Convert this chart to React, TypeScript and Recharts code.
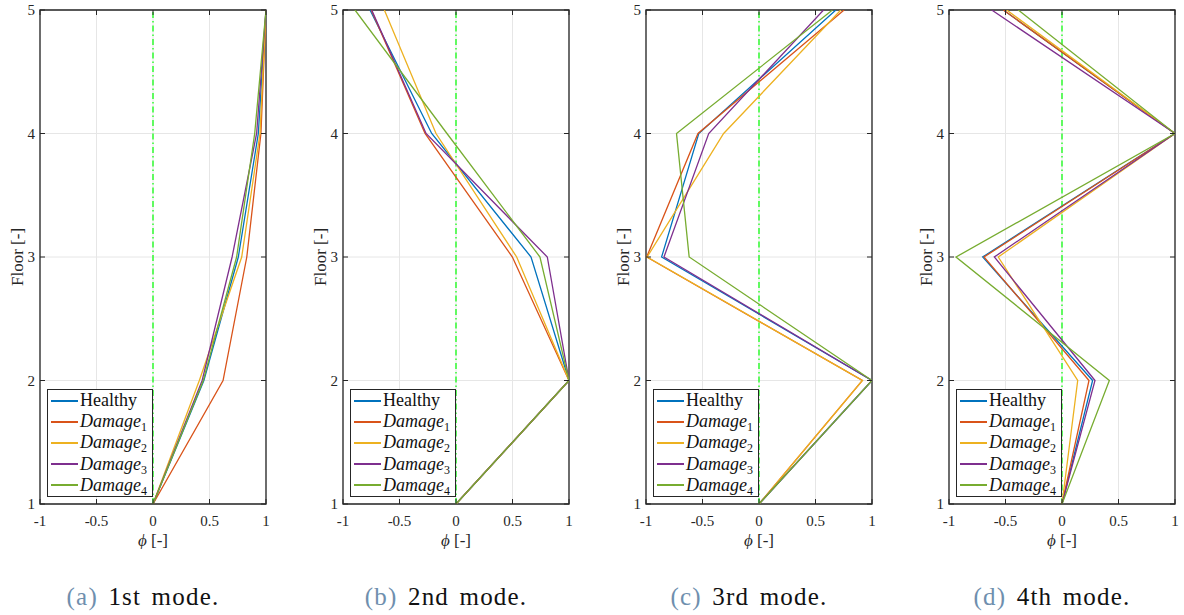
import React from "react"
import {
  ScatterChart,
  Scatter,
  XAxis,
  YAxis,
  CartesianGrid,
  ReferenceLine,
  ReferenceArea,
  Legend,
} from "recharts"

// Mode shapes: one row per series (Healthy, Damage1..4), one value per floor
const floors = [1, 2, 3, 4, 5]

const mode1Phi = [
  [0, 0.45, 0.755, 0.932, 1],
  [0, 0.62, 0.83, 0.955, 1],
  [0, 0.41, 0.785, 0.947, 1],
  [0, 0.435, 0.7, 0.917, 1],
  [0, 0.445, 0.74, 0.9, 1],
]

const mode2Phi = [
  [0, 1, 0.664, -0.215, -0.761],
  [0, 1, 0.499, -0.274, -0.75],
  [0, 1, 0.537, -0.177, -0.634],
  [0, 1, 0.808, -0.265, -0.746],
  [0, 1, 0.743, -0.08, -0.894],
]

const mode3Phi = [
  [0, 1, -0.862, -0.533, 0.68],
  [0, 0.915, -0.994, -0.54, 0.753],
  [0, 0.915, -0.99, -0.313, 0.724],
  [0, 1, -0.841, -0.445, 0.571],
  [0, 1, -0.618, -0.73, 0.65],
]

const mode4Phi = [
  [0, 0.271, -0.702, 1, -0.519],
  [0, 0.239, -0.69, 1, -0.519],
  [0, 0.139, -0.564, 1, -0.49],
  [0, 0.292, -0.599, 1, -0.622],
  [0, 0.419, -0.938, 1, -0.387],
]

const seriesNames = ["Healthy", "Damage1", "Damage2", "Damage3", "Damage4"]
const seriesColors = ["#0072BD", "#D95319", "#EDB120", "#7E2F8E", "#77AC30"]

const xTicks = [-1, -0.5, 0, 0.5, 1]
const yTicks = [1, 2, 3, 4, 5]

const captionTags = ["(a)", "(b)", "(c)", "(d)"]
const captionTexts = ["1st mode.", "2nd mode.", "3rd mode.", "4th mode."]

const panels = [mode1Phi, mode2Phi, mode3Phi, mode4Phi]

const FONT = '"Liberation Serif", "Times New Roman", serif'
const AXIS = "#262626"
const W = 275
const H = 549
const PLOT_LEFT = 40
const PLOT_RIGHT = 266
const PLOT_TOP = 10
const PLOT_BOTTOM = 504
const TICK_LEN = 5

const textStyle = { fontFamily: FONT }

const NoShape = () => <g />

const XTick = (props: any) => {
  const { x, y, payload } = props
  return (
    <g>
      <line x1={x} x2={x} y1={PLOT_BOTTOM} y2={PLOT_BOTTOM - TICK_LEN} stroke={AXIS} />
      <line x1={x} x2={x} y1={PLOT_TOP} y2={PLOT_TOP + TICK_LEN} stroke={AXIS} />
      <text x={x} y={y} dy="0.71em" textAnchor="middle" fill={AXIS} fontSize={15} style={textStyle}>
        {String(payload.value)}
      </text>
    </g>
  )
}

const YTick = (props: any) => {
  const { x, y, payload } = props
  return (
    <g>
      <line x1={PLOT_LEFT} x2={PLOT_LEFT + TICK_LEN} y1={y} y2={y} stroke={AXIS} />
      <line x1={PLOT_RIGHT} x2={PLOT_RIGHT - TICK_LEN} y1={y} y2={y} stroke={AXIS} />
      <text x={x} y={y} dy="0.35em" textAnchor="end" fill={AXIS} fontSize={15} style={textStyle}>
        {String(payload.value)}
      </text>
    </g>
  )
}

const PhiLabel = (props: any) => {
  const { x, y, width } = props.viewBox
  return (
    <text x={x + width / 2} y={y + 42} textAnchor="middle" fill={AXIS} fontSize={17} style={textStyle}>
      <tspan fontStyle="italic">ϕ</tspan> [-]
    </text>
  )
}

const FloorLabel = (props: any) => {
  const { y, height } = props.viewBox
  const cx = 17
  const cy = y + height / 2
  return (
    <text
      x={cx}
      y={cy}
      dy="0.35em"
      textAnchor="middle"
      transform={`rotate(-90, ${cx}, ${cy})`}
      fill={AXIS}
      fontSize={17}
      style={textStyle}
    >
      Floor [-]
    </text>
  )
}

const SeriesName = ({ name }: { name: string }) => {
  if (name === "Healthy") return <span>Healthy</span>
  return (
    <span>
      <i>Damage</i>
      <span style={{ fontSize: 12, position: "relative", top: 4 }}>{name.slice(6)}</span>
    </span>
  )
}

const LegendBox = () => (
  <div
    style={{
      width: 106,
      height: 108,
      boxSizing: "border-box",
      border: `1.3px solid ${AXIS}`,
      background: "#fff",
      fontFamily: FONT,
      fontSize: 18,
      color: "#111",
    }}
  >
    {seriesNames.map((name, i) => (
      <div key={name} style={{ height: 21.2, display: "flex", alignItems: "center", paddingLeft: 3 }}>
        <span
          style={{
            display: "inline-block",
            width: 27,
            borderTop: `2px solid ${seriesColors[i]}`,
            marginRight: 2,
          }}
        />
        <SeriesName name={name} />
      </div>
    ))}
  </div>
)

function ModePanel({ values }: { values: number[][] }) {
  return (
    <ScatterChart width={W} height={H} margin={{ top: PLOT_TOP, right: W - PLOT_RIGHT, bottom: 0, left: 0 }}>
      <CartesianGrid stroke="#e6e6e6" strokeWidth={1} />
      <XAxis
        type="number"
        dataKey="phi"
        domain={[-1, 1]}
        ticks={xTicks}
        allowDataOverflow
        height={45}
        tickSize={0}
        tickLine={false}
        axisLine={false}
        tickMargin={11}
        tick={<XTick />}
        label={<PhiLabel />}
      />
      <YAxis
        type="number"
        dataKey="floor"
        domain={[1, 5]}
        ticks={yTicks}
        allowDataOverflow
        width={PLOT_LEFT}
        tickSize={0}
        tickLine={false}
        axisLine={false}
        tickMargin={5}
        tick={<YTick />}
        label={<FloorLabel />}
      />
      <ReferenceLine x={0} stroke="#00ff00" strokeWidth={1.2} strokeDasharray="6 3 1.5 3" />
      {values.map((row, i) => (
        <Scatter
          key={seriesNames[i]}
          name={seriesNames[i]}
          data={floors.map((f, k) => ({ floor: f, phi: row[k] }))}
          fill={seriesColors[i]}
          line={{ stroke: seriesColors[i], strokeWidth: 1.3 }}
          shape={NoShape}
          isAnimationActive={false}
        />
      ))}
      <ReferenceArea x1={-1} x2={1} y1={1} y2={5} fill="none" stroke={AXIS} strokeWidth={1.3} />
      <Legend
        layout="vertical"
        align="center"
        verticalAlign="middle"
        content={<LegendBox />}
        wrapperStyle={{ left: 47, top: 389, width: 106, height: 108 }}
      />
    </ScatterChart>
  )
}

export default function App() {
  return (
    <div
      style={{
        position: "absolute",
        left: 0,
        top: 0,
        width: 1184,
        height: 615,
        background: "#fff",
        overflow: "hidden",
      }}
    >
      {panels.map((values, p) => (
        <div key={p} style={{ position: "absolute", left: p * 303, top: 0, width: W, height: H }}>
          <ModePanel values={values} />
        </div>
      ))}
      {captionTexts.map((text, p) => (
        <div
          key={text}
          style={{
            position: "absolute",
            left: p * 303 + 143 - 110,
            top: 583,
            width: 220,
            textAlign: "center",
            fontFamily: FONT,
            fontSize: 25,
            lineHeight: "28px",
            letterSpacing: 1.2,
            wordSpacing: 3,
            color: "#111",
          }}
        >
          <span style={{ color: "#6f8fae" }}>{captionTags[p]}</span> {text}
        </div>
      ))}
    </div>
  )
}
